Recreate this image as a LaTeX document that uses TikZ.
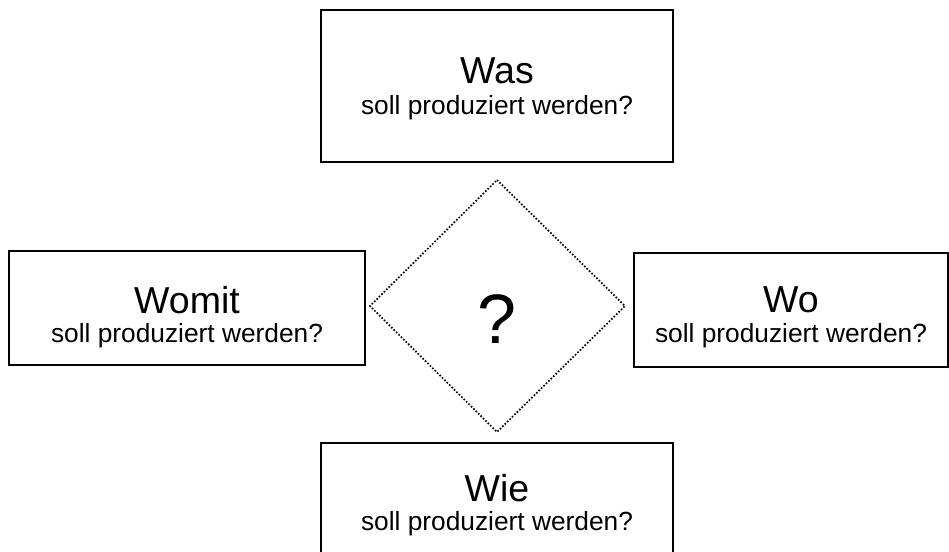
\documentclass[tikz,border=0pt]{standalone}
\usepackage{fontspec}
\setmainfont{Liberation Sans}
\begin{document}
\begin{tikzpicture}[x=1pt,y=-1pt,
  box/.style={draw, line width=1.4pt, rectangle, inner sep=0pt, outer sep=0pt},
  ttl/.style={font=\fontsize{37.5}{40}\selectfont, anchor=base, inner sep=0pt},
  subt/.style={font=\fontsize{26.3}{28}\selectfont, anchor=base, inner sep=0pt},
  dia/.style={line width=1.7pt, dash pattern=on 1.6pt off 1.8pt}]
\useasboundingbox (0,0) rectangle (949,551);
\clip (0,0) rectangle (949,551);
% boxes
\node[box, minimum width=352pt, minimum height=152pt] (wasbox) at (497,86) {};
\node[ttl] (wast) at (497,83) {Was};
\node[subt] (wass) at (497,114) {soll produziert werden?};

\node[box, minimum width=356pt, minimum height=114pt] (womitbox) at (187,308) {};
\node[ttl] (womitt) at (187,313) {Womit};
\node[subt] (womits) at (187,342) {soll produziert werden?};

\node[box, minimum width=314pt, minimum height=114pt] (wobox) at (791,310) {};
\node[ttl] (wot) at (791,312) {Wo};
\node[subt] (wos) at (791,342) {soll produziert werden?};

\node[box, minimum width=352pt, minimum height=152pt] (wiebox) at (497,519) {};
\node[ttl] (wiet) at (497,501) {Wie};
\node[subt] (wies) at (497,530) {soll produziert werden?};

% diamond
\coordinate (dt) at (497,180);
\coordinate (dr) at (625,306);
\coordinate (db) at (497,432);
\coordinate (dl) at (370,306);
\draw[dia] (dt) -- (dr) -- (db) -- (dl) -- cycle;
\node[font=\fontsize{70}{72}\selectfont, anchor=base, inner sep=0pt] (q) at (497,343) {?};
\end{tikzpicture}
\end{document}
